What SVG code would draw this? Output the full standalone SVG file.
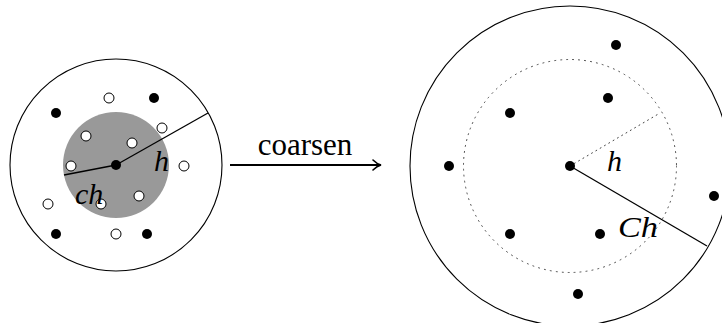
<svg xmlns="http://www.w3.org/2000/svg" width="722" height="323" viewBox="0 0 722 323">
<style>
.ring{fill:none;stroke:#000;stroke-width:1.1}
.dot{fill:#000}
.odot{fill:#fff;stroke:#000;stroke-width:1}
.rad{stroke:#000;stroke-width:1.3;fill:none}
.math{font-family:"Liberation Serif",serif;font-style:italic;font-size:30px;fill:#000}
.lbl{font-family:"Liberation Serif",serif;font-size:31px;fill:#000}
</style>
<defs>
<marker id="arr" markerWidth="12" markerHeight="12" refX="10" refY="6" orient="auto" markerUnits="userSpaceOnUse">
<path d="M2,1 Q6,5 10,6 Q6,7 2,11" fill="none" stroke="#000" stroke-width="1.6" stroke-linecap="round"/>
</marker>
</defs>
<g id="fine">
<circle class="ring" cx="116" cy="165" r="106"/>
<circle cx="116" cy="165" r="53" fill="#999"/>
<g id="fine-points">
<circle class="dot" cx="56" cy="113" r="5"/>
<circle class="dot" cx="154" cy="98" r="5"/>
<circle class="dot" cx="56" cy="234" r="5"/>
<circle class="dot" cx="147" cy="234" r="5"/>
<circle class="odot" cx="109" cy="98" r="5"/>
<circle class="odot" cx="162" cy="128" r="5"/>
<circle class="odot" cx="86" cy="136" r="5"/>
<circle class="odot" cx="132" cy="143" r="5"/>
<circle class="odot" cx="71" cy="166" r="5"/>
<circle class="odot" cx="184" cy="166" r="5"/>
<circle class="odot" cx="48" cy="204" r="5"/>
<circle class="odot" cx="101" cy="204" r="5"/>
<circle class="odot" cx="139" cy="196" r="5"/>
<circle class="odot" cx="116" cy="234" r="5"/>
</g>
<line class="rad" x1="116" y1="165" x2="208" y2="113"/>
<line class="rad" x1="116" y1="165" x2="64" y2="175"/>
<circle class="dot" cx="116" cy="165" r="5"/>
<text class="math" x="154" y="171">h</text>
<text class="math" x="75" y="204">ch</text>
</g>
<g id="coarse">
<circle class="ring" cx="570" cy="166" r="160"/>
<circle cx="570" cy="166" r="106.5" fill="none" stroke="#444" stroke-width="1" stroke-dasharray="1 5" stroke-linecap="round"/>
<line x1="570" y1="166" x2="660" y2="113" stroke="#444" stroke-width="1" stroke-dasharray="1 4" stroke-linecap="round"/>
<line class="rad" x1="570" y1="166" x2="707" y2="246"/>
<g id="coarse-points">
<circle class="dot" cx="616" cy="45" r="5"/>
<circle class="dot" cx="608" cy="98" r="5"/>
<circle class="dot" cx="510" cy="113" r="5"/>
<circle class="dot" cx="449" cy="166" r="5"/>
<circle class="dot" cx="714" cy="196" r="5"/>
<circle class="dot" cx="510" cy="234" r="5"/>
<circle class="dot" cx="600" cy="234" r="5"/>
<circle class="dot" cx="578" cy="294" r="5"/>
</g>
<circle class="dot" cx="570" cy="166" r="5"/>
<text class="math" x="607" y="171">h</text>
<text class="math" x="618" y="237" textLength="40" lengthAdjust="spacingAndGlyphs">Ch</text>
</g>
<g id="connectors">
<line x1="230" y1="165" x2="381" y2="165" stroke="#000" stroke-width="2" marker-end="url(#arr)"/>
<text class="lbl" x="305" y="155" text-anchor="middle">coarsen</text>
</g>
</svg>
